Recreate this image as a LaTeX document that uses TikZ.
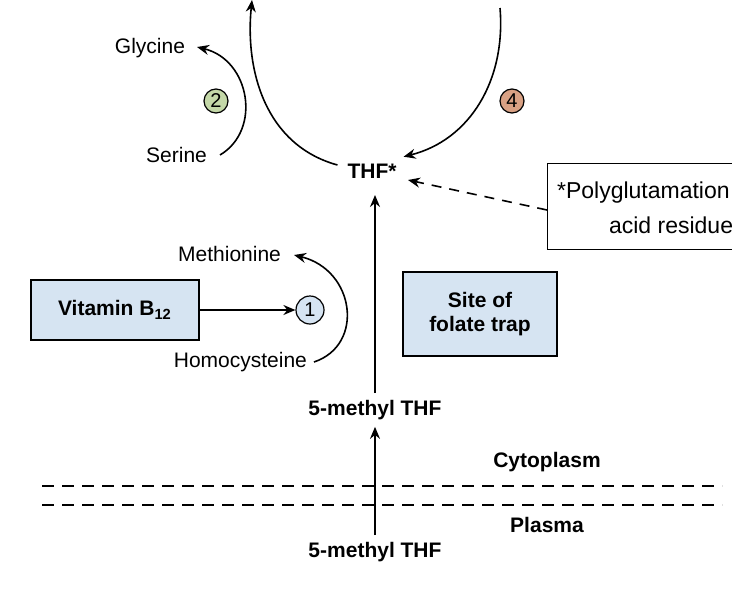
\documentclass[tikz,border=0pt]{standalone}
\usepackage{fontspec}
\setmainfont{Liberation Sans}
\usetikzlibrary{arrows.meta}
\begin{document}
\begin{tikzpicture}[x=0.5pt,y=-0.5pt,
  lbl/.style={font=\fontsize{10.5}{12}\selectfont},
  blbl/.style={font=\bfseries\fontsize{10.5}{12}\selectfont},
  arr/.style={line width=0.8pt,-{Stealth[length=6pt,width=5pt]}},
  num/.style={circle,draw,line width=0.6pt,minimum size=12pt,inner sep=0pt,font=\fontsize{10}{12}\selectfont},
  bx/.style={draw,line width=0.7pt,fill=boxblue,align=center,blbl}]
\definecolor{boxblue}{HTML}{D6E4F2}
\definecolor{numgreen}{HTML}{C4D8A8}
\definecolor{numbrown}{HTML}{D9A184}
\useasboundingbox (0,0) rectangle (732,594);
\clip (0,0) rectangle (732,594);
% THF cycle
\node[blbl] (thf) at (372,171) {THF*};
\node[blbl] (dhf) at (495,-8) {DHF};
\coordinate (ctop) at (252,0);
\coordinate (cright) at (500,8);
\draw[arr] (thf.west) ++(-3,-6) .. controls (265,145) and (245,70) .. (ctop);
\draw[arr] (cright) .. controls (506,80) and (470,140) .. (thf.north east);
\node[num,fill=numbrown] (n4) at (512,101) {4};
% Serine/Glycine
\node[lbl,anchor=east] (gly) at (192,48) {Glycine};
\node[lbl,anchor=east] (ser) at (214,155) {Serine};
\draw[arr] (ser.east) ++(6,0) .. controls (262,130) and (250,60) .. (197,47);
\node[num,fill=numgreen] (n2) at (216,101) {2};
% Polyglutamation box
\node[draw,line width=0.7pt,anchor=north west,minimum width=220pt,minimum height=43pt] (poly) at (547,163) {};
\node[lbl,anchor=west,font=\fontsize{11.5}{13}\selectfont] (p1) at (550,193) {*Polyglutamation of};
\node[lbl,anchor=west,font=\fontsize{11.5}{13}\selectfont] (p2) at (602,225) {acid residues};
\draw[arr,dashed,dash pattern=on 5pt off 4pt] (poly.west |- 0,210) -- (408,180);
% central arrows
\node[blbl] (m1) at (375,410) {5-methyl THF};
\node[blbl] (m2) at (375,552) {5-methyl THF};
\draw[arr] (m1.north) -- (375,195);
\draw[arr] (m2.north) -- (m1.south);
% membrane
\draw[dashed,line width=0.8pt,dash pattern=on 6pt off 4pt] (42,486) -- (722,486);
\draw[dashed,line width=0.8pt,dash pattern=on 6pt off 4pt] (42,505) -- (722,505);
\node[blbl] (cyt) at (547,462) {Cytoplasm};
\node[blbl] (pla) at (547,525) {Plasma};
% folate trap
\node[bx,minimum width=77pt,minimum height=42pt] (trap) at (480,314) {Site of\\folate trap};
% Vitamin B12
\node[bx,minimum width=84pt,minimum height=30pt] (b12) at (115,310) {Vitamin B\textsubscript{12}};
\node[num,fill=boxblue,minimum size=14pt] (n1) at (310,310) {1};
\draw[arr] (b12.east) -- (n1.west);
\node[lbl,anchor=east] (met) at (288,254) {Methionine};
\node[lbl,anchor=east] (hcy) at (314,362) {Homocysteine};
\draw[arr] (hcy.east) .. controls (365,345) and (355,270) .. (294,255);
\end{tikzpicture}
\end{document}
